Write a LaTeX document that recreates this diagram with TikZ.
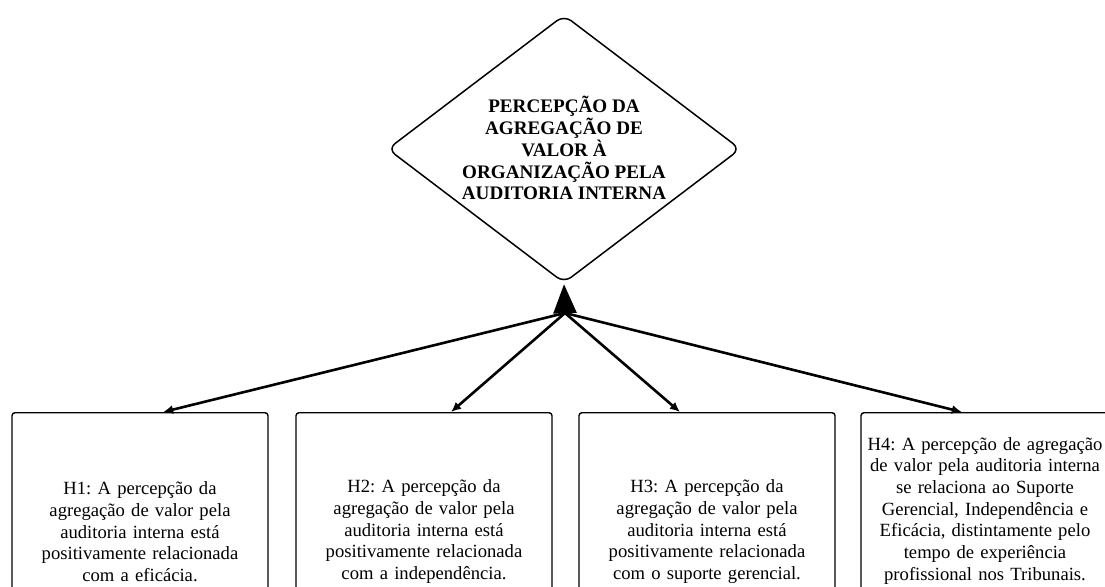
\documentclass[tikz,border=0pt]{standalone}
\usepackage{fontspec}
\setmainfont{Liberation Serif}
\usetikzlibrary{shapes.geometric,arrows.meta,calc}
\tikzset{
  hyp/.style={draw, line width=1.4bp, rounded corners=3bp, minimum width=256bp,
    text width=248bp, align=center, inner sep=0pt, anchor=north,
    font=\frenchspacing\fontsize{18.7}{21.8}\selectfont},
  conn/.style={line width=2.6bp, -{Latex[length=10bp,width=9bp]}},
}
\begin{document}
\begin{tikzpicture}[x=1bp,y=-1bp]
\useasboundingbox (0,0) rectangle (1105,587);
\clip (0,0) rectangle (1105,587);
\node[diamond, draw, line width=1.5bp, rounded corners=9bp, minimum width=353bp,
      minimum height=268bp, inner sep=0pt] (d) at (564,149) {};
\node[align=center, font=\frenchspacing\bfseries\fontsize{19.2}{22}\selectfont] (dt) at (564,148)
  {PERCEPÇÃO DA\\AGREGAÇÃO DE\\VALOR À\\ORGANIZAÇÃO PELA\\AUDITORIA INTERNA};
\coordinate (hub) at (565,313);
\node[hyp, minimum height=238bp] (h1) at (140,412)
  {H1: A percepção da\\agregação de valor pela\\auditoria interna está\\positivamente relacionada\\com a eficácia.};
\node[hyp, minimum height=238bp] (h2) at (424,412)
  {H2: A percepção da\\agregação de valor pela\\auditoria interna está\\positivamente relacionada\\com a independência.};
\node[hyp, minimum height=238bp] (h3) at (707,412)
  {H3: A percepção da\\agregação de valor pela\\auditoria interna está\\positivamente relacionada\\com o suporte gerencial.};
\node[hyp, minimum height=196bp, minimum width=248bp, text width=240bp] (h4) at (985,412)
  {H4: A percepção de agregação\\de valor pela auditoria interna\\se relaciona ao Suporte\\Gerencial, Independência e\\Eficácia, distintamente pelo\\tempo de experiência\\profissional nos Tribunais.};
\draw[line width=2.6bp, -{Triangle[length=29bp,width=23bp]}, shorten >=0.5bp] (hub) -- (d.south);
\draw[conn] (hub) -- ($(h1.north west)!0.59!(h1.north east)$);
\draw[conn] (hub) -- ($(h2.north west)!0.605!(h2.north east)$);
\draw[conn] (hub) -- ($(h3.north west)!0.395!(h3.north east)$);
\draw[conn] (hub) -- ($(h4.north west)!0.407!(h4.north east)$);
\end{tikzpicture}
\end{document}
